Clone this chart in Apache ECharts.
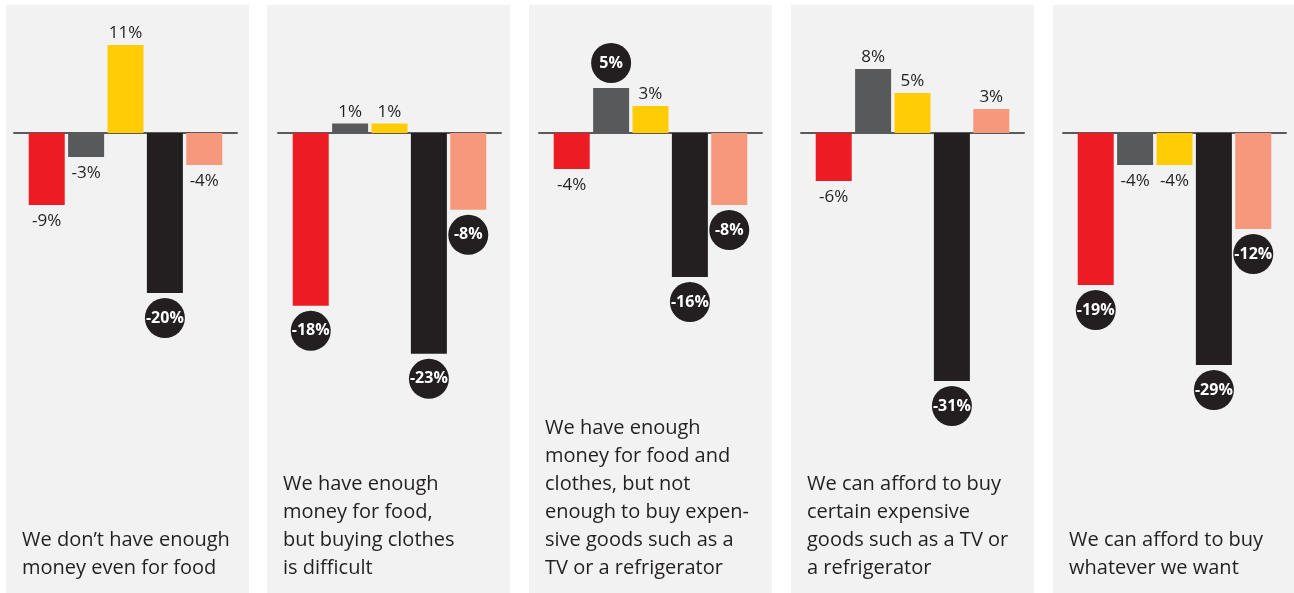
<!DOCTYPE html>
<html>
<head>
<meta charset="utf-8">
<script src="https://cdn.jsdelivr.net/npm/echarts@6/dist/echarts.min.js"></script>
<style>
  html, body { margin: 0; padding: 0; background: #ffffff; }
  #chart { width: 1294px; height: 593px; }
</style>
</head>
<body>
<div id="chart"></div>
<script>
// Panel captions (one per income situation), already broken into lines
const captions = [
  ['We don\u2019t have enough', 'money even for food'],
  ['We have enough', 'money for food,', 'but buying clothes', 'is difficult'],
  ['We have enough', 'money for food and', 'clothes, but not', 'enough to buy expen-', 'sive goods such as a', 'TV or a refrigerator'],
  ['We can afford to buy', 'certain expensive', 'goods such as a TV or', 'a refrigerator'],
  ['We can afford to buy', 'whatever we want']
];

// Change in percentage points, one value per panel, for each coloured group
const redValues    = [-9, -18, -4, -6, -19];
const greyValues   = [-3, 1, 5, 8, -4];
const yellowValues = [11, 1, 3, 5, -4];
const blackValues  = [-20, -23, -16, -31, -29];
const salmonValues = [-4, -8, -8, 3, -12];

// Values printed inside a dark round badge (1) instead of plain text (0)
const redBadge    = [0, 1, 0, 0, 1];
const greyBadge   = [0, 0, 1, 0, 0];
const yellowBadge = [0, 0, 0, 0, 0];
const blackBadge  = [1, 1, 1, 1, 1];
const salmonBadge = [0, 1, 1, 0, 1];

const groups = [
  { name: 'Group 1', color: '#ed1c24', values: redValues,    badge: redBadge },
  { name: 'Group 2', color: '#58595b', values: greyValues,   badge: greyBadge },
  { name: 'Group 3', color: '#ffcc05', values: yellowValues, badge: yellowBadge },
  { name: 'Group 4', color: '#231f20', values: blackValues,  badge: blackBadge },
  { name: 'Group 5', color: '#f5987b', values: salmonValues, badge: salmonBadge }
];

// Layout of the five panels; each panel has its own vertical scale
const panelLeft  = [6, 267, 529, 791, 1053];
const panelRight = [249, 510, 772, 1034, 1294];
const plotLeft   = [14, 278, 539, 801, 1063];
const pxPerPoint = [8, 9.6, 9, 8, 8];
const plotWidth  = 223;
const plotTop    = 5;
const plotHeight = 384;
const zeroY      = 133;

const FONT = '"Open Sans", "Noto Sans", sans-serif';
const INK = '#231f20';

const chart = echarts.init(document.getElementById('chart'), null, { renderer: 'canvas' });

const grids = [], xAxes = [], yAxes = [], series = [], titles = [], graphics = [];

captions.forEach((lines, p) => {
  graphics.push({
    type: 'rect', z: -10, silent: true,
    shape: { x: panelLeft[p], y: plotTop, width: panelRight[p] - panelLeft[p], height: 593 - plotTop },
    style: { fill: '#f2f2f2' }
  });
  grids.push({ left: plotLeft[p], top: plotTop, width: plotWidth, height: plotHeight, containLabel: false });
  xAxes.push({
    type: 'category', gridIndex: p, data: [lines.join(' ')],
    axisLine: { show: true, onZero: true, lineStyle: { color: '#5a5a5a', width: 2 } },
    axisTick: { show: false }, axisLabel: { show: false }, splitLine: { show: false }
  });
  yAxes.push({
    type: 'value', gridIndex: p, show: false, splitLine: { show: false },
    max: (zeroY - plotTop) / pxPerPoint[p],
    min: -(plotTop + plotHeight - zeroY) / pxPerPoint[p]
  });
  titles.push({
    text: lines.join('\n'), left: panelLeft[p] + 16, bottom: 11, padding: 0,
    textStyle: { fontFamily: FONT, fontSize: 20, fontWeight: 'normal', lineHeight: 28, color: INK }
  });

  groups.forEach(g => {
    const v = g.values[p];
    const badge = g.badge[p] === 1;
    const label = badge ? {
      show: true, position: v >= 0 ? 'top' : 'bottom', distance: 5,
      formatter: '{c}%', color: '#ffffff', fontFamily: FONT, fontSize: 16, fontWeight: 'bold',
      backgroundColor: INK, width: 36, lineHeight: 20, padding: [10, 2],
      borderRadius: 20, align: 'center'
    } : {
      show: true, position: v >= 0 ? 'top' : 'bottom', distance: v >= 0 ? 3 : 8,
      formatter: '{c}%', color: INK, fontFamily: FONT, fontSize: 17, fontWeight: 'normal'
    };
    series.push({
      type: 'bar', name: g.name, xAxisIndex: p, yAxisIndex: p,
      barWidth: 36, barGap: '9.4%',
      itemStyle: { color: g.color },
      data: [{ value: v, label: label }]
    });
  });
});

chart.setOption({
  animation: false,
  backgroundColor: '#ffffff',
  title: titles,
  graphic: graphics,
  grid: grids,
  xAxis: xAxes,
  yAxis: yAxes,
  series: series
});
</script>
</body>
</html>
